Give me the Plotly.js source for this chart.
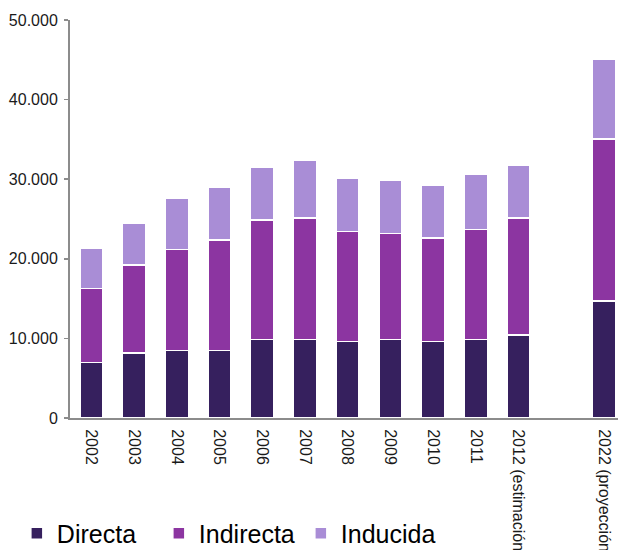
<!DOCTYPE html>
<html>
<head>
<meta charset="utf-8">
<script src="https://cdn.plot.ly/plotly-3.0.1.min.js"></script>
<style>html,body{margin:0;padding:0;overflow:hidden;background:#fff}</style>
</head>
<body>
<div id="chart" style="width:618px;height:550px"></div>
<script>
const categories = ["2002","2003","2004","2005","2006","2007","2008","2009","2010","2011","2012 (estimación)","2022 (proyección)"];
const axisOrder = ["2002","2003","2004","2005","2006","2007","2008","2009","2010","2011","2012 (estimación)"," ","2022 (proyección)"];
const directa   = [7000, 8150, 8450, 8450, 9850, 9850, 9600, 9850, 9600, 9850, 10400, 14700];
const indirecta = [9300, 11050, 12750, 13900, 15000, 15250, 13850, 13300, 13000, 13850, 14750, 20350];
const inducida  = [5000, 5300, 6350, 6650, 6700, 7250, 6700, 6700, 6650, 6950, 6650, 10000];
const yTicks = [0, 10000, 20000, 30000, 40000, 50000];

const colors = {Directa: "#36205e", Indirecta: "#8c35a1", Inducida: "#a98dd6"};
function tr(name, vals) {
  return {type: "bar", name: name, x: categories, y: vals,
    marker: {color: colors[name], line: {color: "#ffffff", width: 1.5}},
    hoverinfo: "skip"};
}
const data = [tr("Directa", directa), tr("Indirecta", indirecta), tr("Inducida", inducida)];
const layout = {
  width: 618, height: 550,
  margin: {l: 70, r: 0, t: 20, b: 132, autoexpand: false},
  barmode: "stack", bargap: 0.46,
  separators: ",.",
  paper_bgcolor: "#fff", plot_bgcolor: "#fff",
  font: {family: "Liberation Sans, Arial, sans-serif", color: "#1a1a1a", size: 16},
  showlegend: true,
  legend: {orientation: "h", x: -0.097, xanchor: "left", y: -0.29, yanchor: "middle",
    font: {size: 25, color: "#000"}, traceorder: "normal", entrywidth: 97, entrywidthmode: "pixels"},
  xaxis: {type: "category", categoryorder: "array", categoryarray: axisOrder,
    range: [-0.5, 12.33], tickangle: 90, showline: true, linecolor: "#8c8c8c", linewidth: 2,
    ticks: "", showgrid: false, zeroline: false, tickfont: {size: 16}, automargin: false,
    ticklabelstandoff: 6},
  yaxis: {range: [0, 50000], tickvals: yTicks, tickformat: ",d", showline: true,
    linecolor: "#8c8c8c", linewidth: 2, ticks: "outside", ticklen: 4, tickcolor: "#8c8c8c",
    tickwidth: 1.5, showgrid: false, zeroline: false, tickfont: {size: 16}, automargin: false,
    ticklabelstandoff: 3}
};
Plotly.newPlot("chart", data, layout, {displayModeBar: false, staticPlot: true});
</script>
</body>
</html>
